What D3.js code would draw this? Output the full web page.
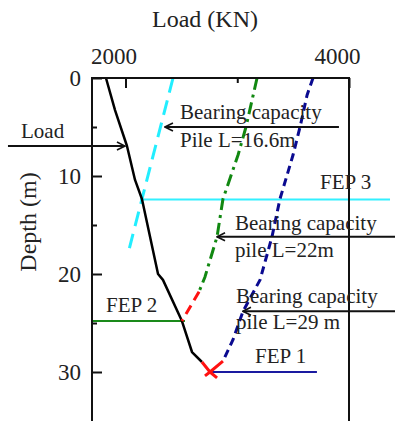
<!DOCTYPE html>
<html>
<head>
<meta charset="utf-8">
<script src="https://cdn.jsdelivr.net/npm/d3@7"></script>
<style>
  html, body { margin: 0; padding: 0; background: #fff; }
  svg { display: block; }
  svg text { font-family: 'Liberation Serif', 'Times New Roman', Times, 'DejaVu Serif', serif !important; fill: #222; }
</style>
</head>
<body>
<div id="chart"></div>
<script>
// ---------- data (Load in KN, Depth in m) ----------
const xTickValues = [2000, 3000, 4000];
const xTickLabels = ["2000", "", "4000"];
const yTickValues = [0, 5, 10, 15, 20, 25, 30];
const yTickLabels = ["0", "", "10", "", "20", "", "30"];

// Applied load curve
const loadX = [1825, 1906, 2013, 2085, 2147, 2291, 2335, 2505, 2595, 2684];
const loadD = [0, 3.27, 6.94, 10.4, 12.35, 20.0, 20.6, 24.8, 27.96, 28.98];
const loadRedX = [2684, 2756, 2819];
const loadRedD = [28.98, 30.0, 30.6];

// Bearing capacity pile L = 16.6 m
const cap16X = [2425, 2035];
const cap16D = [0, 17.35];

// Bearing capacity pile L = 22 m
const cap22X = [3177, 3078, 3007, 2872, 2819, 2711, 2658];
const cap22D = [0, 5.0, 7.86, 12.35, 16.2, 20.3, 21.8];
const cap22RedX = [2658, 2505];
const cap22RedD = [21.8, 24.8];

// Bearing capacity pile L = 29 m
const cap29X = [3678, 3625, 3562, 3499, 3382, 3311, 3204, 3052, 2962, 2872];
const cap29D = [0, 1.73, 4.99, 7.86, 12.35, 16.2, 20.6, 23.8, 26.7, 28.9];
const cap29RedX = [2872, 2756, 2711];
const cap29RedD = [28.9, 30.0, 30.4];

// FEP horizontal lines
const fepNames = ["FEP 1", "FEP 2", "FEP 3"];
const fepDepth = [30.0, 24.8, 12.4];
const fepFrom = [2756, 1700, 2130];
const fepTo = [3713, 2532, 4367];

// ---------- layout ----------
const W = 395, H = 421;
const mLeft = 92, mRight = 349, mTop = 78, mBottom = 425;
const FONT = "'Liberation Serif', 'Times New Roman', Times, 'DejaVu Serif', serif";

const x = d3.scaleLinear().domain([1700, 4000]).range([mLeft, mRight]);
const y = d3.scaleLinear().domain([0, 30]).range([mTop, 372]);

const svg = d3.select("#chart").append("svg")
  .attr("width", W).attr("height", H)
  .attr("font-family", FONT);

const zip = (xs, ds) => xs.map((v, i) => [v, ds[i]]);
const line = d3.line().x(d => x(d[0])).y(d => y(d[1]));

// defs: arrowhead
svg.append("defs").append("marker")
  .attr("id", "arrow")
  .attr("viewBox", "0 0 10 10")
  .attr("refX", 9).attr("refY", 5)
  .attr("markerWidth", 10).attr("markerHeight", 10)
  .attr("markerUnits", "userSpaceOnUse")
  .attr("orient", "auto")
  .append("path")
  .attr("d", "M1,1 L9,5 L1,9")
  .attr("fill", "none").attr("stroke", "#111").attr("stroke-width", 1.6);

// ---------- FEP lines ----------
const fepColors = ["#1a1aa0", "#1a8a1a", "#33f0ff"];
fepNames.forEach((n, i) => {
  svg.append("line")
    .attr("x1", x(fepFrom[i])).attr("x2", x(fepTo[i]))
    .attr("y1", y(fepDepth[i])).attr("y2", y(fepDepth[i]))
    .attr("stroke", fepColors[i]).attr("stroke-width", 2);
});

// ---------- curves ----------
function curve(xs, ds, color, width, dash) {
  svg.append("path")
    .datum(zip(xs, ds))
    .attr("d", line)
    .attr("fill", "none")
    .attr("stroke", color)
    .attr("stroke-width", width)
    .attr("stroke-dasharray", dash)
    .attr("stroke-linejoin", "round");
}
curve(cap16X, cap16D, "#22eeff", 3, "15,8");
curve(cap22X, cap22D, "#118811", 3, "12,5,3,5");
curve(cap29X, cap29D, "#0a0a90", 3, "8,5");
curve(loadX, loadD, "#000", 2.5, null);
curve(cap22RedX, cap22RedD, "#ff1111", 3, "10,6");
curve(loadRedX, loadRedD, "#ff1111", 3, null);
curve(cap29RedX, cap29RedD, "#ff1111", 3, null);

// ---------- axes box ----------
svg.append("path")
  .attr("d", `M${mLeft},${mBottom} L${mLeft},${mTop} L${mRight},${mTop} L${mRight},${mBottom}`)
  .attr("fill", "none").attr("stroke", "#111").attr("stroke-width", 2);

// top axis ticks
const xAxis = d3.axisTop(x).tickValues(xTickValues)
  .tickSize(0).tickFormat((d, i) => xTickLabels[i]);
const gx = svg.append("g").attr("transform", `translate(0,${mTop})`).call(xAxis)
  .attr("font-family", FONT);
gx.select(".domain").remove();
gx.selectAll(".tick text")
  .attr("font-size", 23).attr("fill", "#222")
  .attr("dx", -12).attr("y", -14);
gx.selectAll(".tick").append("line")
  .attr("y1", 0).attr("y2", (d, i) => i === 1 ? 5 : 10)
  .attr("stroke", "#111").attr("stroke-width", 2);

// left axis ticks
const yAxis = d3.axisLeft(y).tickValues(yTickValues)
  .tickSize(0).tickFormat((d, i) => yTickLabels[i]);
const gy = svg.append("g").attr("transform", `translate(${mLeft},0)`).call(yAxis)
  .attr("font-family", FONT);
gy.select(".domain").remove();
gy.selectAll(".tick text")
  .attr("font-size", 23).attr("fill", "#222")
  .attr("x", -11);
gy.selectAll(".tick").append("line")
  .attr("x1", 0).attr("x2", (d, i) => i % 2 === 1 ? 5 : 10)
  .attr("stroke", "#111").attr("stroke-width", 2);

// axis titles
svg.append("text").attr("x", 205).attr("y", 27)
  .attr("text-anchor", "middle").attr("font-size", 24).text("Load (KN)");
svg.append("text")
  .attr("transform", "translate(36,222) rotate(-90)")
  .attr("text-anchor", "middle").attr("font-size", 24).text("Depth (m)");

// ---------- annotations ----------
function arrow(x1, x2, d) {
  svg.append("line")
    .attr("x1", x(x1)).attr("x2", x(x2))
    .attr("y1", y(d)).attr("y2", y(d))
    .attr("stroke", "#111").attr("stroke-width", 1.8)
    .attr("marker-end", "url(#arrow)");
}
function label(px, py, txt, size) {
  svg.append("text").attr("x", px).attr("y", py)
    .attr("font-size", size || 21).text(txt);
}

arrow(948, 1995, 6.94);
label(21, 138, "Load");

arrow(3910, 2353, 5.0);
label(180, 119, "Bearing capacity");
label(180, 147, "Pile L=16.6m");

arrow(4412, 2819, 16.2);
label(235, 230, "Bearing capacity");
label(235, 257, "pile L=22m");

arrow(4412, 3051, 23.8);
label(236, 303, "Bearing capacity");
label(236, 329, "pile L=29 m");

label(320, 189, "FEP 3");
label(106, 312, "FEP 2");
label(255, 363, "FEP 1");
</script>
</body>
</html>
